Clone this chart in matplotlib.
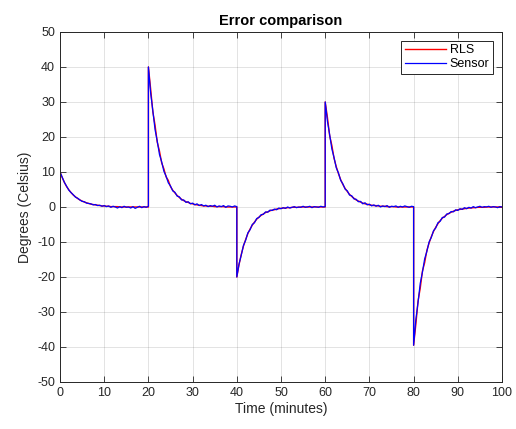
import numpy as np
import matplotlib
matplotlib.use("Agg")
import matplotlib.pyplot as plt

plt.rcParams['font.family'] = ['Liberation Sans', 'DejaVu Sans']
plt.rcParams['axes.unicode_minus'] = False

# segment start times (minutes); each segment sampled every 0.5 min, 41 samples (incl. end)
segment_starts = [0, 20, 40, 60, 80]
sample_step = 0.5

sensor_seg0 = [10.0, 8.5, 7.0, 5.9, 4.8, 4.1, 3.5, 2.8, 2.5, 2.0, 1.6,
               1.5, 1.1, 1.0, 0.9, 0.6, 0.7, 0.4, 0.5, 0.2, 0.4,
               0.1, 0.3, -0.1, 0.2, 0.0, -0.3, 0.1, -0.2, 0.2, -0.1,
               0.0, -0.3, 0.1, -0.4, -0.1, 0.2, -0.2, 0.1, -0.1, 0.2]
sensor_seg1 = [40.0, 32.6, 27.5, 22.1, 18.8, 15.0, 12.9, 10.2, 8.8, 6.9, 6.0,
               4.6, 4.2, 3.1, 2.9, 2.0, 2.0, 1.3, 1.5, 0.9, 1.1,
               0.6, 0.9, 0.4, 0.7, 0.3, 0.5, 0.1, 0.4, 0.2, 0.5,
               0.0, 0.3, 0.1, 0.4, -0.1, 0.3, 0.2, 0.0, 0.3, 0.1]
sensor_seg2 = [-20.0, -16.3, -13.8, -11.0, -9.5, -7.4, -6.5, -5.0, -4.5, -3.3, -3.0,
               -2.2, -2.1, -1.4, -1.5, -0.9, -1.0, -0.6, -0.8, -0.3, -0.5,
               -0.2, -0.4, 0.0, -0.3, -0.1, 0.1, -0.2, 0.0, -0.1, 0.2,
               -0.1, 0.0, 0.2, -0.2, 0.1, 0.0, -0.1, 0.2, 0.0, 0.1]
sensor_seg3 = [30.0, 24.5, 20.7, 16.6, 14.1, 11.2, 9.7, 7.6, 6.6, 5.1, 4.6,
               3.4, 3.2, 2.3, 2.2, 1.5, 1.6, 0.9, 1.2, 0.6, 0.8,
               0.3, 0.6, 0.2, 0.5, 0.0, 0.3, 0.1, 0.4, -0.1, 0.2,
               0.1, 0.3, -0.1, 0.2, 0.0, 0.3, 0.1, -0.1, 0.2, 0.1]
sensor_seg4 = [-39.5, -32.2, -27.3, -21.8, -18.6, -14.8, -12.7, -10.0, -8.7, -6.8, -6.0,
               -4.5, -4.1, -3.0, -2.9, -2.0, -1.9, -1.3, -1.4, -0.8, -1.0,
               -0.5, -0.7, -0.2, -0.5, -0.1, -0.3, 0.1, -0.2, 0.0, 0.2,
               -0.1, 0.1, 0.0, 0.2, -0.1, 0.1, 0.0, -0.2, 0.1, 0.0]

rls_seg0 = [10.0, 8.4, 7.0, 5.8, 4.9, 4.1, 3.4, 2.9, 2.4, 2.0, 1.7,
            1.4, 1.2, 1.0, 0.8, 0.7, 0.6, 0.5, 0.4, 0.3, 0.3,
            0.2, 0.2, 0.1, 0.1, 0.1, 0.1, 0.0, 0.0, 0.0, 0.0,
            0.0, 0.0, 0.0, 0.0, 0.0, 0.0, 0.0, 0.0, 0.0, 0.0]
rls_seg1 = [40.0, 33.8, 27.2, 23.4, 18.5, 16.0, 12.6, 10.9, 8.6, 7.6, 5.8,
            4.8, 4.0, 3.3, 2.7, 2.2, 1.8, 1.5, 1.3, 1.0, 0.9,
            0.7, 0.6, 0.5, 0.4, 0.3, 0.3, 0.2, 0.2, 0.2, 0.1,
            0.1, 0.1, 0.1, 0.1, 0.0, 0.0, 0.0, 0.0, 0.0, 0.0]
rls_seg2 = [-20.0, -16.5, -13.6, -11.2, -9.3, -7.6, -6.3, -5.2, -4.3, -3.5, -2.9,
            -2.4, -2.0, -1.6, -1.4, -1.1, -0.9, -0.8, -0.6, -0.5, -0.4,
            -0.3, -0.3, -0.2, -0.2, -0.1, -0.1, -0.1, -0.1, 0.0, 0.0,
            0.0, 0.0, 0.0, 0.0, 0.0, 0.0, 0.0, 0.0, 0.0, 0.0]
rls_seg3 = [30.0, 25.6, 20.4, 17.6, 13.9, 11.5, 9.5, 7.8, 6.4, 5.3, 4.4,
            3.6, 3.0, 2.5, 2.0, 1.7, 1.4, 1.1, 0.9, 0.8, 0.6,
            0.5, 0.4, 0.4, 0.3, 0.2, 0.2, 0.2, 0.1, 0.1, 0.1,
            0.1, 0.0, 0.0, 0.0, 0.0, 0.0, 0.0, 0.0, 0.0, 0.0]
rls_seg4 = [-39.5, -33.6, -26.9, -23.2, -18.3, -15.9, -12.4, -10.3, -8.5, -7.0, -5.8,
            -4.8, -3.9, -3.2, -2.7, -2.2, -1.8, -1.5, -1.2, -1.0, -0.8,
            -0.7, -0.6, -0.5, -0.4, -0.3, -0.3, -0.2, -0.2, -0.1, -0.1,
            -0.1, -0.1, 0.0, 0.0, 0.0, 0.0, 0.0, 0.0, 0.0, 0.0]

sensor_segments = [sensor_seg0, sensor_seg1, sensor_seg2, sensor_seg3, sensor_seg4]
rls_segments = [rls_seg0, rls_seg1, rls_seg2, rls_seg3, rls_seg4]

x_ticks = [0, 10, 20, 30, 40, 50, 60, 70, 80, 90, 100]
y_ticks = [-50, -40, -30, -20, -10, 0, 10, 20, 30, 40, 50]


def build(segments):
    t, v = [], []
    for start, seg in zip(segment_starts, segments):
        t.extend(start + sample_step * np.arange(len(seg)))
        v.extend(seg)
    return np.array(t), np.array(v)


t_s, v_s = build(sensor_segments)
t_r, v_r = build(rls_segments)

fig = plt.figure(figsize=(5.16, 4.29), dpi=100)
ax = fig.add_axes([0.1163, 0.1096, 0.8566, 0.8159])

ax.plot(t_r, v_r, color=(1, 0, 0), lw=1.0, label='RLS')
ax.plot(t_s, v_s, color=(0, 0, 1), lw=0.9, label='Sensor')

ax.set_xlim(0, 100)
ax.set_ylim(-50, 50)
ax.set_xticks(x_ticks)
ax.set_yticks(y_ticks)
ax.grid(True, color=(0.15, 0.15, 0.15), alpha=0.15, lw=0.6)
ax.tick_params(direction='in', top=True, right=True, labelsize=9,
               colors=(0.15, 0.15, 0.15), length=4, width=0.6)
for s in ax.spines.values():
    s.set_color((0.15, 0.15, 0.15))
    s.set_linewidth(0.7)

ax.set_title('Error comparison', fontsize=10.5, fontweight='bold', pad=5)
ax.set_xlabel('Time (minutes)', fontsize=10, color=(0.15, 0.15, 0.15), labelpad=2)
ax.set_ylabel('Degrees (Celsius)', fontsize=10, color=(0.15, 0.15, 0.15), labelpad=4)

leg = ax.legend(loc='upper right', fontsize=9, fancybox=False, framealpha=1,
                edgecolor=(0.15, 0.15, 0.15), borderaxespad=0.7,
                handlelength=3.3, handletextpad=0.3, borderpad=0.3, labelspacing=0.15)
leg.get_frame().set_linewidth(0.7)

fig.savefig('out.png', dpi=100)
